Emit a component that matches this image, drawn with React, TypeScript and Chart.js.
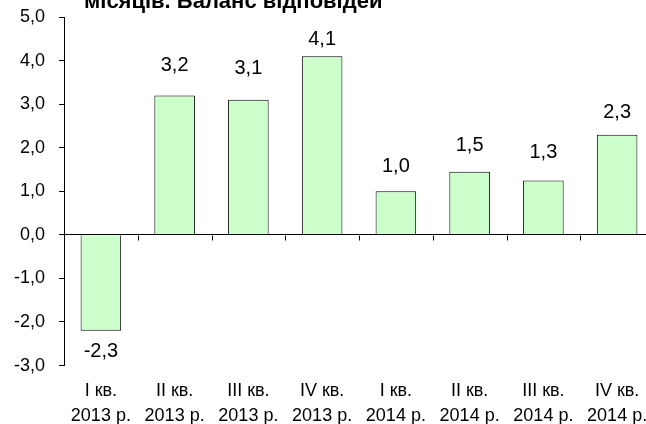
import React, { useEffect, useRef } from "react";
import { Chart, registerables } from "chart.js";

Chart.register(...registerables);

const quarters = ["I кв.", "II кв.", "III кв.", "IV кв.", "I кв.", "II кв.", "III кв.", "IV кв."];
const years = ["2013 р.", "2013 р.", "2013 р.", "2013 р.", "2014 р.", "2014 р.", "2014 р.", "2014 р."];
const balance = [-2.2, 3.2, 3.1, 4.1, 1.0, 1.45, 1.25, 2.3];
const balanceLabels = ["-2,3", "3,2", "3,1", "4,1", "1,0", "1,5", "1,3", "2,3"];
const yMin = -3;
const yMax = 5;
const yStep = 1;
const titleText = "місяців. Баланс відповідей";

const FONT = '"Liberation Sans", Arial, sans-serif';
const labelOffsets = [21, 30, 31, 17, 25, 26.5, 27.5, 22];

const decor = {
  id: "decor",
  afterDatasetsDraw(chart: any) {
    const { ctx, scales } = chart;
    const x = scales.x;
    const y = scales.y;
    const y0 = Math.round(y.getPixelForValue(0)) + 0.5;
    ctx.save();
    ctx.strokeStyle = "#000";
    ctx.lineWidth = 1;
    for (let i = 1; i < quarters.length; i++) {
      const px = Math.round(x.getPixelForValue(i - 0.5)) + 0.5;
      ctx.beginPath();
      ctx.moveTo(px, y0);
      ctx.lineTo(px, y0 + 5);
      ctx.stroke();
    }
    const meta = chart.getDatasetMeta(0);
    ctx.font = "20px " + FONT;
    ctx.textAlign = "center";
    ctx.textBaseline = "middle";
    ctx.fillStyle = "#000";
    meta.data.forEach((bar: any, i: number) => {
      const off = labelOffsets[i];
      const yy = balance[i] >= 0 ? bar.y - off : bar.y + off;
      ctx.fillText(balanceLabels[i], bar.x, yy);
    });
    ctx.font = "bold 22px " + FONT;
    ctx.textAlign = "left";
    ctx.textBaseline = "alphabetic";
    ctx.fillText(titleText, 84, 8);
    ctx.restore();
  },
};

export default function App() {
  const ref = useRef<HTMLCanvasElement | null>(null);
  useEffect(() => {
    if (!ref.current) return;
    const chart = new Chart(ref.current, {
      type: "bar",
      data: {
        labels: quarters.map((q, i) => [q, years[i]]),
        datasets: [
          {
            data: balance,
            backgroundColor: "#CCFFCC",
            borderColor: "#000",
            borderWidth: 1,
            barPercentage: 0.55,
            categoryPercentage: 1.0,
          },
        ],
      },
      options: {
        responsive: false,
        animation: false,
        layout: { padding: { top: 17, right: 2, bottom: 0, left: 0 } },
        plugins: {
          legend: { display: false },
          tooltip: { enabled: false },
          title: { display: false },
        },
        scales: {
          x: {
            grid: { display: false, drawTicks: false },
            border: { display: false },
            ticks: {
              font: { size: 18, family: FONT, lineHeight: 1.36 },
              color: "#000",
              padding: 13.75,
              maxRotation: 0,
              autoSkip: false,
            },
            afterFit: (s: any) => {
              s.paddingLeft = 0;
              s.paddingRight = 0;
            },
          },
          y: {
            min: yMin,
            max: yMax,
            ticks: {
              stepSize: yStep,
              font: { size: 18, family: FONT },
              color: "#000",
              padding: 14,
              callback: (v: any) => Number(v).toFixed(1).replace(".", ","),
            },
            grid: {
              drawOnChartArea: true,
              drawTicks: true,
              tickLength: 5,
              tickColor: "#000",
              lineWidth: 1,
              color: (c: any) => (c.tick && c.tick.value === 0 ? "#000" : "rgba(0,0,0,0)"),
            },
            border: { display: true, color: "#000", width: 1 },
            afterFit: (s: any) => {
              s.width = 64;
              s.paddingTop = 0;
              s.paddingBottom = 0;
            },
          },
        },
      },
      plugins: [decor],
    });
    return () => chart.destroy();
  }, []);
  return (
    <div style={{ position: "fixed", left: 0, top: 0, width: 646, height: 424, overflow: "hidden", background: "#fff" }}>
      <canvas ref={ref} width={656} height={442} style={{ display: "block", width: 656, height: 442 }} />
    </div>
  );
}
